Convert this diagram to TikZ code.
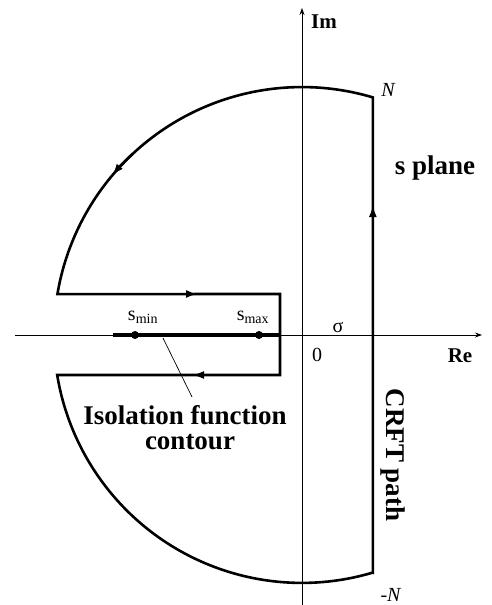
\documentclass[tikz,border=0pt]{standalone}
\usepackage{fontspec}
\setmainfont{Liberation Serif}
\usetikzlibrary{arrows.meta}
\begin{document}
\begin{tikzpicture}[x=1pt,y=1pt,
  axis/.style={line width=0.8pt},
  contour/.style={line width=2.6pt, line join=miter},
  tip/.style={line width=2.6pt,-{Latex[length=12pt,width=8pt]}},
  boldlab/.style={font=\fontsize{27}{29}\selectfont\bfseries, inner sep=0pt},
  axlab/.style={font=\fontsize{21}{24}\selectfont\bfseries, inner sep=0pt},
  lab/.style={font=\fontsize{20}{22}\selectfont, inner sep=0pt},
  dot/.style={circle, fill, inner sep=0pt, minimum size=8pt}]
\useasboundingbox (0,0) rectangle (491,-605);
\coordinate (O) at (302,-335);
\coordinate (reL) at (15,-335);
\coordinate (reR) at (482,-335);
\coordinate (imT) at (302,-8);
\coordinate (imB) at (302,-605);
\draw[axis,-{Stealth[length=7pt,width=5pt]}] (reL) -- (reR);
\draw[axis,-{Stealth[length=7pt,width=5pt]}] (imB) -- (imT);
% contour
\coordinate (Nt) at (372.85,-97.4);
\coordinate (Nb) at (372.85,-572.6);
\coordinate (U2) at (280,-294);
\coordinate (L2) at (280,-375);
\coordinate (L1) at (57.2,-375);
\draw[contour] (Nb) -- (Nt) arc[start angle=73.4, end angle=170.5, radius=248pt]
  -- (U2) -- (L2) -- (L1) arc[start angle=189.3, end angle=286.6, radius=248pt] -- cycle;
% arrow heads
\draw[tip] (372.85,-240) -- (372.85,-205);
\draw[tip] (O) ++(133:248pt) arc[start angle=133, end angle=140, radius=248pt];
\draw[tip] (165,-294) -- (198,-294);
\draw[tip] (225,-375) -- (192,-375);
% segment and points
\draw[line width=3.2pt] (113,-335) -- (280,-335);
\node[dot] (smin) at (135,-335) {};
\node[dot] (smax) at (259,-335) {};
\node[lab] (sminl) at (143,-317) {s\textsubscript{min}};
\node[lab] (smaxl) at (253,-317) {s\textsubscript{max}};
\node[lab] (sigma) at (338,-327) {σ};
\node[lab] (zero) at (317,-355) {0};
\node[axlab] (re) at (460,-356) {Re};
\node[axlab, anchor=west] (im) at (311,-22) {Im};
\node[lab, font=\fontsize{20}{22}\selectfont\itshape] (nt) at (388,-90) {N};
\node[lab] (nb) at (391,-595) {-\textit{N}};
\node[boldlab] (sp) at (435,-168) {s plane};
\node[boldlab, rotate=-90] (crft) at (393,-455) {CRFT path};
\node[boldlab, anchor=base] (iso) at (185,-424) {Isolation function};
\node[boldlab, anchor=base] (cont) at (190,-449) {contour};
\coordinate (lead) at (163,-338);
\coordinate (leadE) at (192,-397);
\draw[line width=0.7pt] (lead) -- (leadE);
\end{tikzpicture}
\end{document}
